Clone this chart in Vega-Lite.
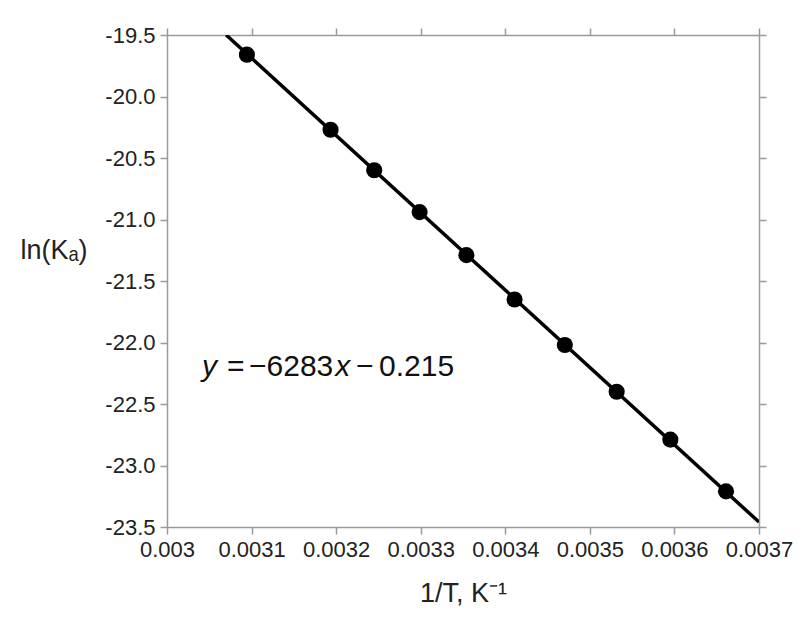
{
  "$schema": "https://vega.github.io/schema/vega-lite/v6.json",
  "width": 592,
  "height": 492,
  "autosize": "none",
  "padding": {"left": 167, "top": 35, "right": 47, "bottom": 91},
  "background": "white",
  "config": {
    "view": {"stroke": null},
    "font": "Liberation Sans",
    "axis": {
      "domainColor": "#9a9a9a",
      "domainWidth": 1.5,
      "tickColor": "#9a9a9a",
      "tickWidth": 1.5,
      "tickSize": 7,
      "grid": false,
      "labelFont": "Liberation Sans",
      "labelFontSize": 22,
      "labelColor": "#222",
      "labelOverlap": false,
      "labelFlush": false,
      "titleFont": "Liberation Sans",
      "titleFontSize": 27,
      "titleFontWeight": "normal",
      "titleColor": "#222"
    }
  },
  "datasets": {
    "pts": [
      {"inv_T": 0.0030945, "lnKa": -19.66},
      {"inv_T": 0.0031934, "lnKa": -20.27},
      {"inv_T": 0.003245, "lnKa": -20.60},
      {"inv_T": 0.0032987, "lnKa": -20.94},
      {"inv_T": 0.003354, "lnKa": -21.29},
      {"inv_T": 0.003411, "lnKa": -21.65},
      {"inv_T": 0.0034704, "lnKa": -22.02},
      {"inv_T": 0.0035317, "lnKa": -22.40},
      {"inv_T": 0.0035952, "lnKa": -22.79},
      {"inv_T": 0.003661, "lnKa": -23.21}
    ],
    "fit": [
      {"inv_T": 0.00307, "lnKa": -19.5},
      {"inv_T": 0.0037, "lnKa": -23.46}
    ],
    "eq_italic": [
      {"inv_T": 0.0030414, "lnKa": -22.27, "t": "y"},
      {"inv_T": 0.0031990, "lnKa": -22.27, "t": "x"}
    ],
    "eq_plain": [
      {"inv_T": 0.0030710, "lnKa": -22.27, "t": "="},
      {"inv_T": 0.0030970, "lnKa": -22.27, "t": "−6283"},
      {"inv_T": 0.0032235, "lnKa": -22.27, "t": "−"},
      {"inv_T": 0.0032507, "lnKa": -22.27, "t": "0.215"}
    ]
  },
  "layer": [
    {
      "data": {"name": "fit"},
      "mark": {"type": "line", "color": "#000", "strokeWidth": 3.5, "clip": true},
      "encoding": {
        "x": {
          "field": "inv_T", "type": "quantitative",
          "scale": {"domain": [0.003, 0.0037], "zero": false, "nice": false},
          "axis": {
            "orient": "bottom",
            "values": [0.003, 0.0031, 0.0032, 0.0033, 0.0034, 0.0035, 0.0036, 0.0037],
            "format": "~g",
            "labelPadding": 5,
            "title": "1/T, K⁻¹",
            "titleY": 74,
            "titleBaseline": "alphabetic"
          }
        },
        "y": {
          "field": "lnKa", "type": "quantitative",
          "scale": {"domain": [-23.5, -19.5], "zero": false, "nice": false},
          "axis": {
            "orient": "left",
            "values": [-19.5, -20, -20.5, -21, -21.5, -22, -22.5, -23, -23.5],
            "labelExpr": "replace(format(datum.value, '.1f'), '\u2212', '-')",
            "labelPadding": 5,
            "title": "ln(Kₐ)",
            "titleAngle": 0,
            "titleAlign": "left",
            "titleBaseline": "alphabetic",
            "titleX": -147,
            "titleY": 223
          }
        }
      }
    },
    {
      "data": {"name": "fit"},
      "mark": {"type": "rule", "opacity": 0},
      "encoding": {
        "x": {
          "field": "inv_T", "type": "quantitative",
          "axis": {
            "orient": "top",
            "values": [0.003, 0.0031, 0.0032, 0.0033, 0.0034, 0.0035, 0.0036, 0.0037],
            "labels": false, "title": null
          }
        },
        "y": {
          "field": "lnKa", "type": "quantitative",
          "axis": {
            "orient": "right",
            "values": [-19.5, -20, -20.5, -21, -21.5, -22, -22.5, -23, -23.5],
            "labels": false, "title": null
          }
        }
      }
    },
    {
      "data": {"name": "pts"},
      "mark": {"type": "point", "filled": true, "color": "#000", "opacity": 1, "size": 260},
      "encoding": {
        "x": {"field": "inv_T", "type": "quantitative", "axis": null},
        "y": {"field": "lnKa", "type": "quantitative", "axis": null}
      }
    },
    {
      "data": {"name": "eq_italic"},
      "mark": {"type": "text", "font": "Liberation Sans", "fontSize": 30, "fontStyle": "italic", "align": "left", "baseline": "alphabetic", "color": "#111"},
      "encoding": {
        "x": {"field": "inv_T", "type": "quantitative", "axis": null},
        "y": {"field": "lnKa", "type": "quantitative", "axis": null},
        "text": {"field": "t"}
      }
    },
    {
      "data": {"name": "eq_plain"},
      "mark": {"type": "text", "font": "Liberation Sans", "fontSize": 30, "align": "left", "baseline": "alphabetic", "color": "#111"},
      "encoding": {
        "x": {"field": "inv_T", "type": "quantitative", "axis": null},
        "y": {"field": "lnKa", "type": "quantitative", "axis": null},
        "text": {"field": "t"}
      }
    }
  ],
  "resolve": {"axis": {"x": "independent", "y": "independent"}}
}
